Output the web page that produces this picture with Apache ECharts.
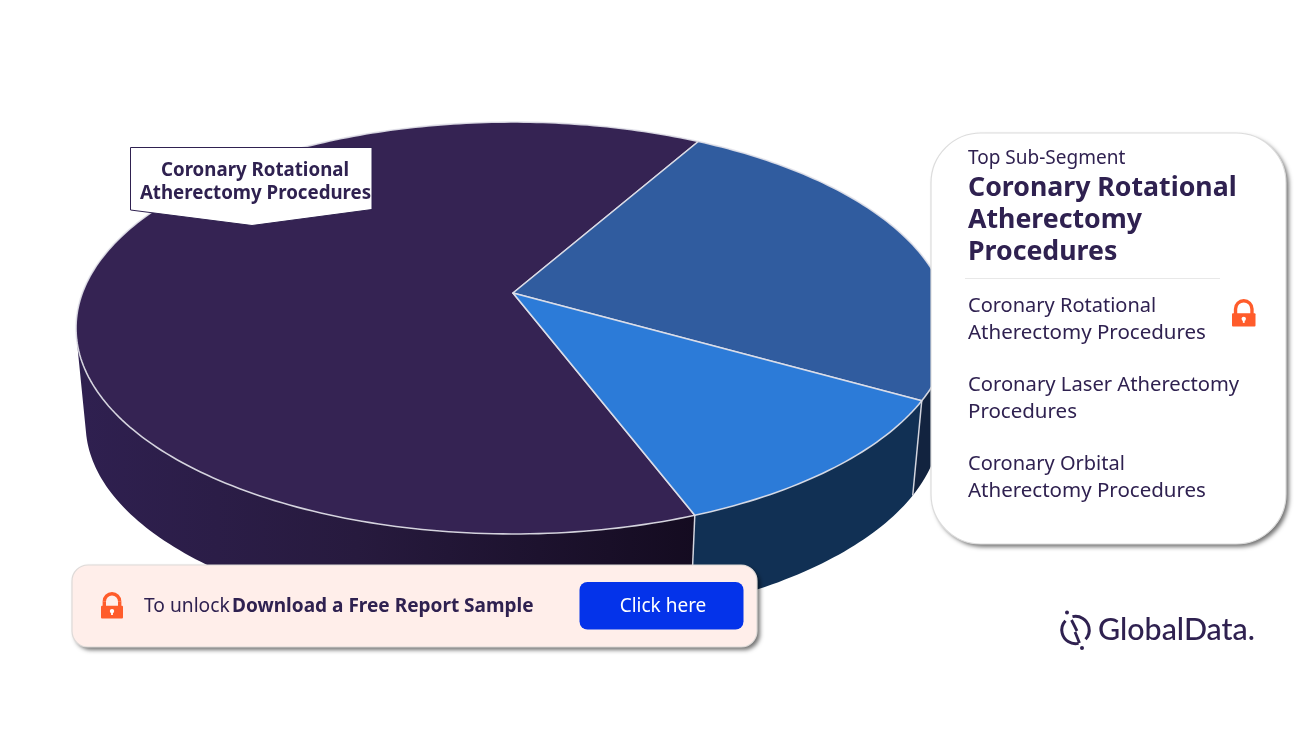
<!DOCTYPE html>
<html>
<head>
<meta charset="utf-8">
<title>Coronary Atherectomy Procedures</title>
<style>html,body{margin:0;padding:0;background:#fff}#chart{width:1316px;height:740px}</style>
<script src="https://cdn.jsdelivr.net/npm/echarts@6/dist/echarts.min.js"></script>
</head>
<body>
<div id="chart"></div>
<script>
// Share of procedures by sub-segment
const categories = ['Coronary Rotational Atherectomy Procedures', 'Coronary Laser Atherectomy Procedures', 'Coronary Orbital Atherectomy Procedures'];
const shares = [64, 25, 11];
const faceColors = ['#352353', '#305c9f', '#2c7bd8'];
const wallColors = [
  { type: 'linear', x: 76, y: 0, x2: 700, y2: 0, global: true, colorStops: [
    { offset: 0, color: '#2f2050' }, { offset: 0.45, color: '#271a3e' }, { offset: 1, color: '#140b20' } ] },
  '#12233f',
  '#113054'
];
const panelHeading = 'Top Sub-Segment';
const panelTitle = ['Coronary Rotational', 'Atherectomy', 'Procedures'];
const panelItems = [['Coronary Rotational', 'Atherectomy Procedures'], ['Coronary Laser Atherectomy', 'Procedures'], ['Coronary Orbital', 'Atherectomy Procedures']];
const calloutLines = ['Coronary Rotational', 'Atherectomy Procedures'];

const INK = '#2f2150';
const FONT = '"Noto Sans", sans-serif';
const EDGE = 'rgba(226,226,234,0.9)';

// Perspective disc: the apex sits above the centre of the outline ellipse
const APEX = [513, 293];
const SPAN_X = 430.6, SPAN_Y = 200, TILT = 0.17;
const START_DEG = 159.2;
const DROP = 97, BASE_SCALE = 0.978;
// Only this arc of the rim faces the viewer; the rest is hidden behind the top face
const FRONT_ARC = [103, 257];

function topPoint(deg) {
  const r = deg * Math.PI / 180;
  const X = Math.sin(r), Y = -Math.cos(r), w = 1 - TILT * Y;
  return [APEX[0] + SPAN_X * X / w, APEX[1] + SPAN_Y * Y / w];
}
function basePoint(deg) {
  const p = topPoint(deg);
  return [APEX[0] + (p[0] - APEX[0]) * BASE_SCALE, APEX[1] + DROP + (p[1] - APEX[1]) * BASE_SCALE];
}
function sweep(fn, a, b) {
  const n = Math.max(2, Math.ceil(Math.abs(b - a) / 1));
  const pts = [];
  for (let i = 0; i <= n; i++) pts.push(fn(a + (b - a) * i / n));
  return pts;
}
const total = shares.reduce((s, v) => s + v, 0);
// Clockwise start and end of a slice, in degrees from twelve o'clock
function sliceRange(index) {
  let from = START_DEG;
  for (let i = 0; i < index; i++) from += shares[i] / total * 360;
  if (from >= 360) from -= 360;
  return [from, from + shares[index] / total * 360];
}

function renderWall(params, api) {
  const i = params.dataIndex, rng = sliceRange(i);
  const a = Math.max(rng[0], FRONT_ARC[0]), b = Math.min(rng[1], FRONT_ARC[1]);
  const children = [];
  if (b > a) {
    const pts = sweep(topPoint, a, b).concat(sweep(basePoint, a, b).reverse());
    children.push({ type: 'polygon', shape: { points: pts }, style: { fill: wallColors[i] } });
  }
  // Seam where this slice meets the next one on the rim
  if (rng[1] > FRONT_ARC[0] && rng[1] < FRONT_ARC[1]) {
    const t = topPoint(rng[1]), s = basePoint(rng[1]);
    children.push({ type: 'line', z2: 5, shape: { x1: t[0], y1: t[1], x2: s[0], y2: s[1] },
      style: { stroke: EDGE, lineWidth: 1.5 } });
  }
  return { type: 'group', children: children };
}
function renderFace(params, api) {
  const i = params.dataIndex, rng = sliceRange(i);
  const pts = [APEX].concat(sweep(topPoint, rng[0], rng[1]));
  return { type: 'polygon', shape: { points: pts },
    style: { fill: faceColors[i], stroke: EDGE, lineWidth: 1.6, lineJoin: 'round' } };
}

function label(x, y, text, size, weight, color, align) {
  return { type: 'text', x: x, y: y, z: 30,
    style: { text: text, fill: color || INK, font: (weight || 400) + ' ' + size + 'px ' + FONT,
      textAlign: align || 'left', textVerticalAlign: 'middle' } };
}
function lock(x, y, w, h) {
  const bodyTop = y + h * 0.52, cx = x + w / 2, r = w * 0.35, arcY = y + r + 1.7;
  const shackle = { stroke: '#ff5c2b', lineWidth: 3.4, fill: 'none' };
  return { type: 'group', children: [
    { type: 'arc', z: 30, shape: { cx: cx, cy: arcY, r: r, startAngle: Math.PI, endAngle: 0, clockwise: true }, style: shackle },
    { type: 'line', z: 30, shape: { x1: cx - r, y1: arcY, x2: cx - r, y2: bodyTop + 1 }, style: shackle },
    { type: 'line', z: 30, shape: { x1: cx + r, y1: arcY, x2: cx + r, y2: bodyTop + 1 }, style: shackle },
    { type: 'rect', z: 30, shape: { x: x, y: bodyTop, width: w, height: y + h - bodyTop, r: 1 }, style: { fill: '#ff5c2b' } },
    { type: 'circle', z: 31, shape: { cx: cx, cy: bodyTop + (y + h - bodyTop) * 0.42, r: 2.2 }, style: { fill: '#fff' } },
    { type: 'rect', z: 31, shape: { x: cx - 0.9, y: bodyTop + (y + h - bodyTop) * 0.42, width: 1.8, height: 4 }, style: { fill: '#fff' } }
  ] };
}
// Rounded panel: the shadow is cast by a borderless plate so it stays outside the fill
function panel(x, y, w, h, r, fill, border) {
  return [
    { type: 'rect', z: 20, shape: { x: x, y: y, width: w, height: h, r: r },
      style: { fill: fill, shadowColor: 'rgba(0,0,0,0.55)', shadowBlur: 4, shadowOffsetX: 3, shadowOffsetY: 3 } },
    { type: 'rect', z: 21, shape: { x: x, y: y, width: w, height: h, r: r },
      style: { fill: fill, stroke: border, lineWidth: 1.2 } }
  ];
}
const ringStyle = { fill: 'none', stroke: INK, lineWidth: 3 };

const graphics = [
  // Callout over the largest slice
  { type: 'polygon', z: 20, shape: { points: [[130.5, 147.5], [372, 147.5], [372, 209.5], [252, 225.5], [130.5, 210]] },
    style: { fill: '#fff', stroke: INK, lineWidth: 1 } },
  label(255, 170.5, calloutLines[0], 18.7, 700, INK, 'center'),
  label(255.5, 193.5, calloutLines[1], 18.7, 700, INK, 'center'),

  // Summary card
  ...panel(931, 133, 355, 411, 50, '#fff', '#dcdcdc'),
  label(968, 159, panelHeading, 19, 400),
  label(968, 188.5, panelTitle[0], 26.7, 700),
  label(968, 220.5, panelTitle[1], 26.7, 700),
  label(968, 252.5, panelTitle[2], 26.7, 700),
  { type: 'line', z: 25, shape: { x1: 965, y1: 278.5, x2: 1220, y2: 278.5 }, style: { stroke: '#e8e8e8', lineWidth: 1 } },
  label(968, 306, panelItems[0][0], 20, 400),
  label(968, 333, panelItems[0][1], 20.5, 400),
  label(968, 385, panelItems[1][0], 20.2, 400),
  label(968, 412, panelItems[1][1], 20.5, 400),
  label(968, 464, panelItems[2][0], 20, 400),
  label(968, 491, panelItems[2][1], 20.5, 400),
  lock(1232, 299, 23.5, 27.5),

  // Unlock bar
  ...panel(72, 565, 685, 82, 16, '#ffeeea', '#dedad8'),
  lock(101, 592, 22, 26.5),
  label(144, 607, 'To unlock', 19.2, 400),
  label(232, 607, 'Download a Free Report Sample', 19.05, 700),
  { type: 'rect', z: 25, shape: { x: 579.5, y: 582, width: 164, height: 47.5, r: 8 }, style: { fill: '#0433ea' } },
  label(663, 607, 'Click here', 19, 400, '#fff', 'center'),

  // Publisher mark
  { type: 'arc', z: 20, shape: { cx: 1075.5, cy: 630, r: 13.7, startAngle: 1.35, endAngle: 3.89 }, style: ringStyle },
  { type: 'arc', z: 20, shape: { cx: 1075.5, cy: 630, r: 13.7, startAngle: 4.49, endAngle: 7.03 }, style: ringStyle },
  { type: 'line', z: 20, shape: { x1: 1071.5, y1: 620, x2: 1077, y2: 631 }, style: { stroke: INK, lineWidth: 2.8 } },
  { type: 'line', z: 20, shape: { x1: 1075, y1: 632, x2: 1079.5, y2: 643 }, style: { stroke: INK, lineWidth: 2.8 } },
  { type: 'circle', z: 20, shape: { cx: 1067, cy: 612.5, r: 2 }, style: { fill: INK } },
  { type: 'circle', z: 20, shape: { cx: 1082, cy: 648, r: 2 }, style: { fill: INK } },
  { type: 'text', x: 1098, y: 630, z: 20, style: { text: 'GlobalData.', fill: INK, font: '500 30.4px Lato, sans-serif', textAlign: 'left', textVerticalAlign: 'middle' } }
];

const chart = echarts.init(document.getElementById('chart'), null, { renderer: 'canvas' });
const seriesData = categories.map((name, i) => ({ name: name, value: shares[i] }));
chart.setOption({
  animation: false,
  backgroundColor: '#fff',
  series: [
    { type: 'custom', coordinateSystem: 'none', silent: true, z: 1, data: seriesData, renderItem: renderWall },
    { type: 'custom', coordinateSystem: 'none', silent: true, z: 2, data: seriesData, renderItem: renderFace }
  ],
  graphic: { elements: graphics }
});
</script>
</body>
</html>
